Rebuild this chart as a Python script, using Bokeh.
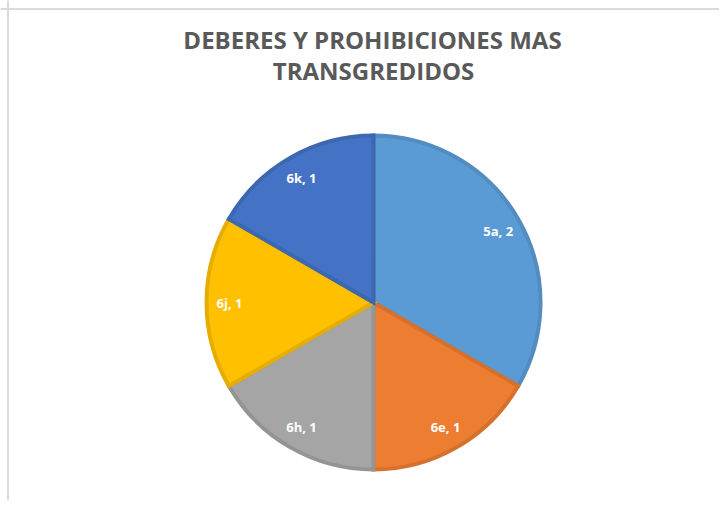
import math
from bokeh.plotting import figure
from bokeh.models import ColumnDataSource, Range1d, Span
from bokeh.core.properties import value
from bokeh.embed import file_html
from bokeh.resources import INLINE

# ---- data ----
categories = ["5a", "6e", "6h", "6j", "6k"]
values = [2, 1, 1, 1, 1]
fill_colors = ["#5B9BD5", "#ED7D31", "#A5A5A5", "#FFC000", "#4472C4"]
edge_colors = ["#528CC1", "#D5712C", "#949494", "#E6AD00", "#3D67B0"]
title_lines = ["DEBERES Y PROHIBICIONES MAS", "TRANSGREDIDOS"]

# ---- layout constants (pixels, y measured upward from figure bottom) ----
W, H = 719, 500
cx, cy = 373, H - 302
R = 167
R_LABEL = 144

total = sum(values)
starts, ends, lx, ly, labels = [], [], [], [], []
cum = 0.0
for cat, v in zip(categories, values):
    a0 = math.pi / 2 - 2 * math.pi * (cum + v) / total
    a1 = math.pi / 2 - 2 * math.pi * cum / total
    starts.append(a0)
    ends.append(a1)
    mid = (a0 + a1) / 2
    lx.append(cx + R_LABEL * math.cos(mid))
    ly.append(cy + R_LABEL * math.sin(mid))
    labels.append(f"{cat}, {v}")
    cum += v

src = ColumnDataSource(dict(
    cat=categories, val=values, start=starts, end=ends,
    fill=fill_colors, edge=edge_colors, lx=lx, ly=ly, label=labels,
))

p = figure(width=W, height=H, output_backend="svg", toolbar_location=None,
           x_range=Range1d(0, W), y_range=Range1d(0, H), min_border=0)
p.axis.visible = False
p.grid.visible = False
p.outline_line_color = None
p.background_fill_color = "white"
p.border_fill_color = "white"

# chart area frame (top and left edges visible)
p.add_layout(Span(location=H - 8.5, dimension="width", line_color="#D9D9D9", line_width=2))
p.add_layout(Span(location=7.5, dimension="height", line_color="#D9D9D9", line_width=2))

p.wedge(x=cx, y=cy, radius=R, start_angle="start", end_angle="end",
        fill_color="fill", line_color="edge", line_width=4, line_join="miter", source=src)

p.text(x="lx", y="ly", text="label", source=src, text_color="white",
       text_font=value("Open Sans"), text_font_size="13px", text_font_style="bold",
       text_align="center", text_baseline="middle")

title_x = [372, 373]
title_y = [H - 38.5, H - 69.5]
p.text(x=title_x, y=title_y, text=title_lines, text_color="#595959",
       text_font=value("Open Sans"), text_font_size="24px", text_font_style="bold",
       text_align="center", text_baseline="middle")

open("out.html", "w").write(file_html(p, INLINE))
